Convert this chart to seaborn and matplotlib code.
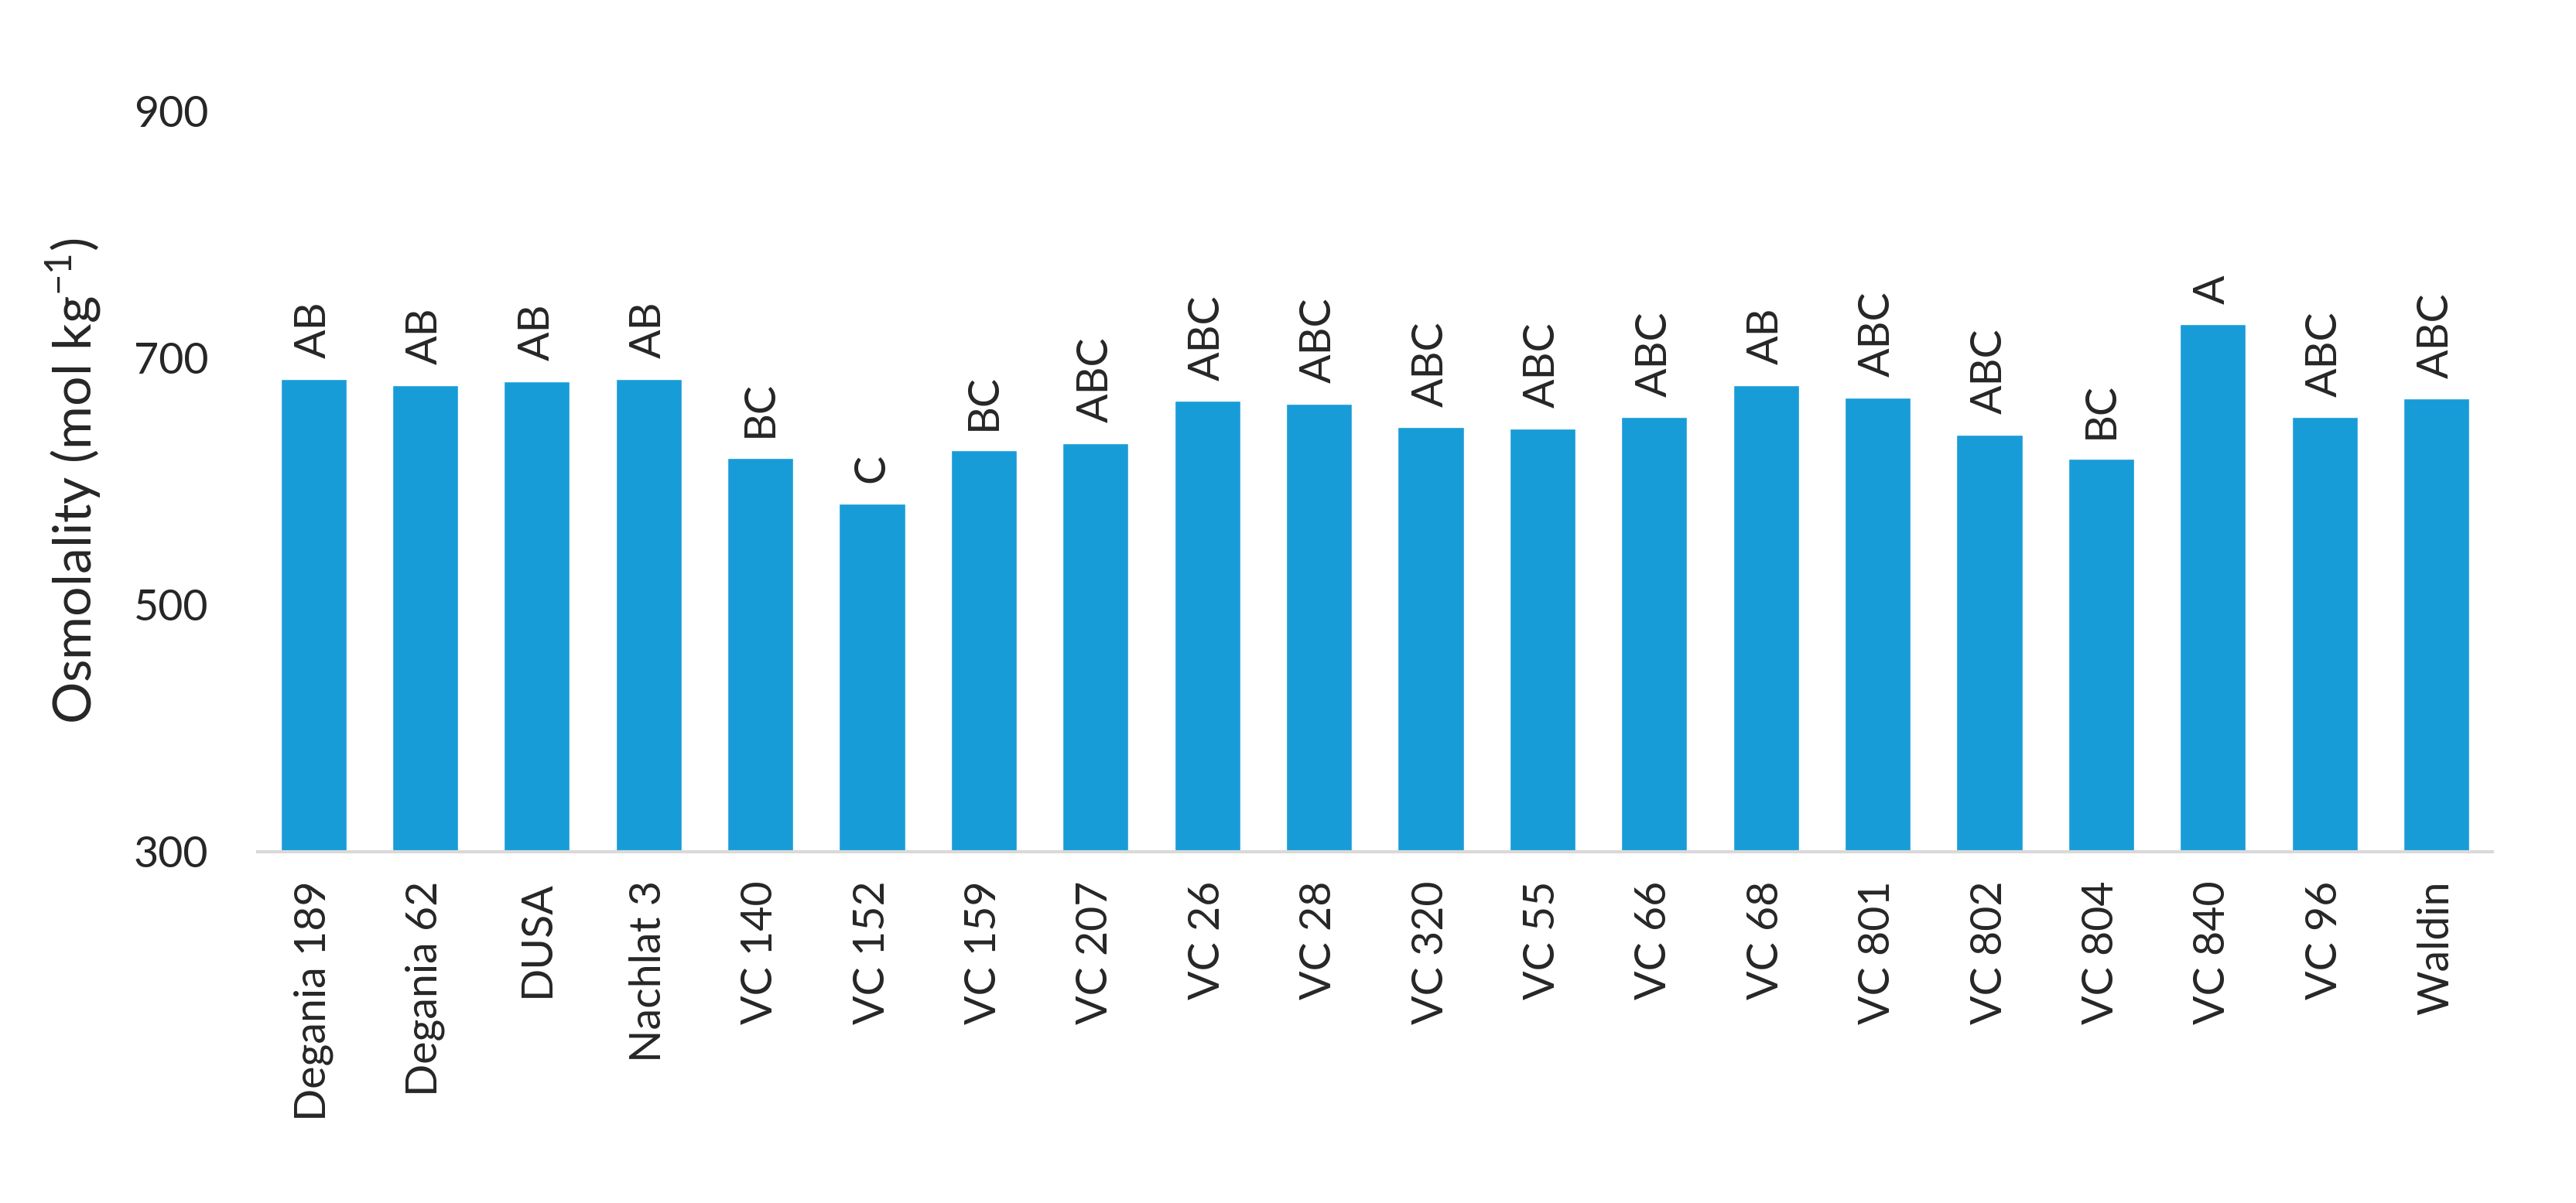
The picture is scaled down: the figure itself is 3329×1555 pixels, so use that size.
import matplotlib
matplotlib.use("Agg")
import matplotlib.pyplot as plt
import seaborn as sns

# === Data
cultivars = ["Degania 189", "Degania 62", "DUSA", "Nachlat 3", "VC 140", "VC 152",
             "VC 159", "VC 207", "VC 26", "VC 28", "VC 320", "VC 55", "VC 66",
             "VC 68", "VC 801", "VC 802", "VC 804", "VC 840", "VC 96", "Waldin"]
osmolality = [683, 678, 681, 683, 619, 582, 625, 631, 665, 663, 644, 643, 652,
              678, 668, 638, 618, 727, 652, 667]
groups = ["AB", "AB", "AB", "AB", "BC", "C", "BC", "ABC", "ABC", "ABC", "ABC",
          "ABC", "ABC", "AB", "ABC", "ABC", "BC", "A", "ABC", "ABC"]
y_ticks = [300, 500, 700, 900]

sns.set_style("white")
plt.rcParams['font.family'] = ['Lato', 'DejaVu Sans']
plt.rcParams['mathtext.fontset'] = 'custom'
plt.rcParams['mathtext.rm'] = 'Lato'

fig = plt.figure(figsize=(33.29, 15.55), dpi=100)
ax = fig.add_axes([0.1, 0.292, 0.8675, 0.6158])

sns.barplot(x=cultivars, y=osmolality, color="#189CD7", saturation=1,
            width=0.59, ax=ax)

# === Significance letters above bars
for i, (v, g) in enumerate(zip(osmolality, groups)):
    ax.annotate(g, (i, v), xytext=(0, 19), textcoords="offset points",
                rotation=90, ha="center", va="bottom", fontsize=40)

ax.set_ylim(300, 900)
ax.set_xlim(-0.5, len(cultivars) - 0.5)
ax.set_yticks(y_ticks)
ax.tick_params(axis="y", length=0, pad=46, labelsize=40)
ax.tick_params(axis="x", length=0, pad=27, labelsize=40, rotation=90)

ax.set_ylabel(r"Osmolality (mol kg$^{\mathregular{-1}}$)", fontsize=49)
ax.yaxis.set_label_coords(-0.069, 0.5)

sns.despine(ax=ax, left=True)
ax.spines["bottom"].set_color("#d9d9d9")
ax.spines["bottom"].set_linewidth(3)

fig.savefig("out.png", dpi=100)
